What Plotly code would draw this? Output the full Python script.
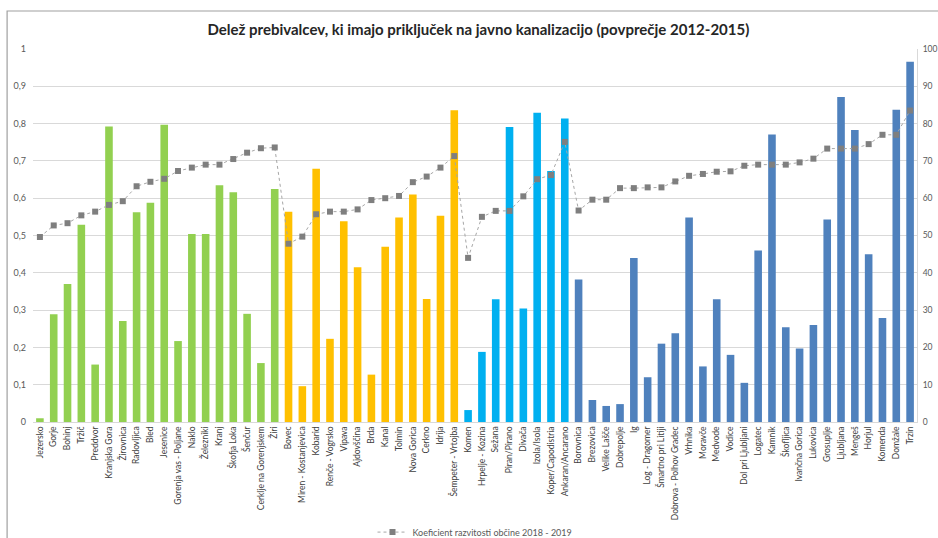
import plotly.graph_objects as go

green = ["Jezersko", "Gorje", "Bohinj", "Tržič", "Preddvor", "Kranjska Gora", "Žirovnica",
         "Radovljica", "Bled", "Jesenice", "Gorenja vas - Poljane", "Naklo", "Železniki",
         "Kranj", "Škofja Loka", "Šenčur", "Cerklje na Gorenjskem", "Žiri"]
orange = ["Bovec", "Miren - Kostanjevica", "Kobarid", "Renče - Vogrsko", "Vipava", "Ajdovščina",
          "Brda", "Kanal", "Tolmin", "Nova Gorica", "Cerkno", "Idrija", "Šempeter - Vrtojba"]
lightblue = ["Komen", "Hrpelje - Kozina", "Sežana", "Piran/Pirano", "Divača", "Izola/Isola",
             "Koper/Capodistria", "Ankaran/Ancarano"]
darkblue = ["Borovnica", "Brezovica", "Velike Lašče", "Dobrepolje", "Ig", "Log - Dragomer",
            "Šmartno pri Litiji", "Dobrova - Polhov Gradec", "Vrhnika", "Moravče", "Medvode",
            "Vodice", "Dol pri Ljubljani", "Logatec", "Kamnik", "Škofljica", "Ivančna Gorica",
            "Lukovica", "Grosuplje", "Ljubljana", "Mengeš", "Horjul", "Komenda", "Domžale", "Trzin"]

share_green = [0.01, 0.289, 0.37, 0.529, 0.154, 0.792, 0.271, 0.562, 0.588, 0.797, 0.217,
               0.504, 0.504, 0.635, 0.616, 0.29, 0.158, 0.625]
share_orange = [0.564, 0.096, 0.679, 0.223, 0.538, 0.415, 0.127, 0.47, 0.548, 0.61, 0.33,
                0.553, 0.836]
share_lightblue = [0.032, 0.188, 0.329, 0.791, 0.304, 0.829, 0.673, 0.814]
share_darkblue = [0.382, 0.059, 0.043, 0.048, 0.44, 0.12, 0.21, 0.238, 0.548, 0.149, 0.329,
                  0.18, 0.105, 0.46, 0.771, 0.254, 0.197, 0.26, 0.543, 0.871, 0.783, 0.45,
                  0.279, 0.837, 0.966]

coef_green = [49.6, 52.7, 53.3, 55.4, 56.4, 58.2, 59.2, 63.2, 64.4, 65.2, 67.3, 68.2, 69.0,
              69.0, 70.5, 72.2, 73.4, 73.6]
coef_orange = [47.8, 49.7, 55.7, 56.4, 56.4, 57.0, 59.5, 60.0, 60.6, 64.3, 65.8, 68.2, 71.3]
coef_lightblue = [44.0, 55.0, 56.6, 56.6, 60.5, 65.1, 66.2, 75.1]
coef_darkblue = [56.7, 59.6, 59.6, 62.7, 62.7, 62.9, 62.9, 64.5, 66.0, 66.5, 67.1, 67.2, 68.7,
                 69.0, 69.0, 69.0, 69.6, 70.6, 73.3, 73.3, 73.3, 74.5, 77.0, 77.0, 83.5]

left_ticks = [0, 0.1, 0.2, 0.3, 0.4, 0.5, 0.6, 0.7, 0.8, 0.9, 1]
left_labels = ["0", "0,1", "0,2", "0,3", "0,4", "0,5", "0,6", "0,7", "0,8", "0,9", "1"]
right_ticks = [0, 10, 20, 30, 40, 50, 60, 70, 80, 90, 100]

colors = {"green": "#92D050", "orange": "#FFC000", "lightblue": "#00B0F0", "darkblue": "#4F81BD"}

cats = green + orange + lightblue + darkblue
shares = share_green + share_orange + share_lightblue + share_darkblue
coefs = coef_green + coef_orange + coef_lightblue + coef_darkblue
bar_colors = ([colors["green"]] * len(green) + [colors["orange"]] * len(orange)
              + [colors["lightblue"]] * len(lightblue) + [colors["darkblue"]] * len(darkblue))

fig = go.Figure()
fig.add_trace(go.Bar(x=cats, y=shares, marker=dict(color=bar_colors, line=dict(width=0)),
                     showlegend=False, name="Delež"))
fig.add_trace(go.Scatter(x=cats, y=coefs, yaxis="y2", mode="lines+markers",
                         name="Koeficient razvitosti občine 2018 - 2019",
                         line=dict(color="#A6A6A6", width=1, dash="dot"),
                         marker=dict(symbol="square", size=6, color="#7F7F7F")))

font = "Lato, 'Open Sans', sans-serif"
fig.update_layout(
    width=938, height=538,
    margin=dict(l=33, r=21, t=49, b=116, autoexpand=False),
    paper_bgcolor="white", plot_bgcolor="white",
    bargap=0.45,
    font=dict(family=font, size=9, color="#595959"),
    title=dict(text="<b>Delež prebivalcev, ki imajo priključek na javno kanalizacijo (povprečje 2012-2015)</b>",
               x=0.51, xanchor="center", y=0.945, yanchor="middle",
               font=dict(family=font, size=15, color="#262626")),
    xaxis=dict(tickangle=-90, tickfont=dict(size=8.5, color="#404040"), showgrid=False,
               showline=True, linecolor="#D9D9D9", ticks="", automargin=False,
               range=[-0.5, len(cats) - 0.5]),
    yaxis=dict(range=[0, 1], tickmode="array", tickvals=left_ticks, ticktext=left_labels,
               showgrid=True, gridcolor="#D9D9D9", zeroline=False, showline=False,
               tickfont=dict(size=9), ticklabelstandoff=6, automargin=False),
    yaxis2=dict(range=[0, 100], tickvals=right_ticks, overlaying="y", side="right",
                showgrid=False, zeroline=False, showline=True, linecolor="#D9D9D9",
                tickfont=dict(size=8.5), ticklabelstandoff=3, automargin=False),
    legend=dict(orientation="h", x=0.5, xanchor="center", yref="container", y=0.011,
                yanchor="middle", font=dict(size=9, color="#595959")),
    shapes=[dict(type="rect", xref="paper", yref="paper", x0=-0.0293, x1=1.05, y0=-0.33,
                 y1=1.1019, line=dict(color="#A0A0A0", width=1.2), fillcolor="rgba(0,0,0,0)")],
)

fig.write_html("out.html", config={"displayModeBar": False},
               post_script="document.body.style.margin='0';document.body.style.padding='0';"
                           "document.body.style.overflow='hidden';")
